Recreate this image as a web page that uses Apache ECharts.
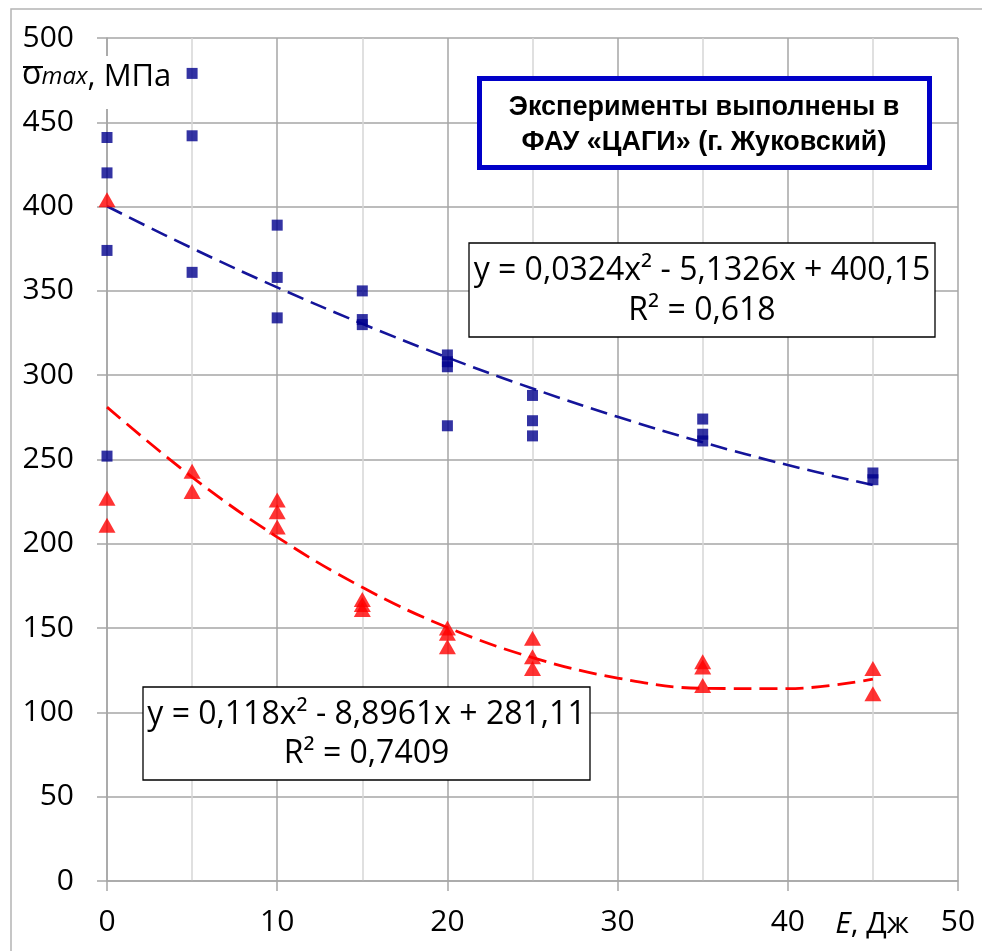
<!DOCTYPE html>
<html>
<head>
<meta charset="utf-8">
<script src="https://cdn.jsdelivr.net/npm/echarts@6/dist/echarts.min.js"></script>
<style>
  html, body { margin: 0; padding: 0; background: #fff; }
  #main { width: 982px; height: 951px; }
</style>
</head>
<body>
<div id="main"></div>
<script>
// измеренные точки (E, Дж ; sigma max, МПа)
const bluePoints = [
  [0, 441], [0, 420], [0, 374], [0, 252],
  [5, 479], [5, 442], [5, 361],
  [10, 389], [10, 358], [10, 334],
  [15, 350], [15, 333], [15, 330],
  [20, 312], [20, 308], [20, 305], [20, 270],
  [25, 288], [25, 273], [25, 264],
  [35, 274], [35, 265], [35, 261],
  [45, 242], [45, 238]
];
const redPoints = [
  [0, 404], [0, 227], [0, 211],
  [5, 243], [5, 231],
  [10, 226], [10, 219], [10, 210],
  [15, 167], [15, 164], [15, 161],
  [20, 150], [20, 147], [20, 139],
  [25, 144], [25, 133], [25, 126],
  [35, 130], [35, 127], [35, 116],
  [45, 126], [45, 111]
];
// линии тренда, значения
const trendX = [0, 5, 10, 15, 20, 25, 30, 35, 40, 45];
const blueTrend = [400.2, 375.3, 352.1, 330.5, 310.5, 292.1, 275.3, 260.2, 246.7, 234.8];
const redTrend = [281.1, 239.6, 204.0, 174.2, 150.4, 132.5, 120.4, 114.3, 114.1, 119.7];

const blueEq = ['y = 0,0324x² - 5,1326x + 400,15', 'R² = 0,618'];
const redEq = ['y = 0,118x² - 8,8961x + 281,11', 'R² = 0,7409'];
const noteText = ['Эксперименты выполнены в', 'ФАУ «ЦАГИ» (г. Жуковский)'];

const FONT = '"Open Sans", "DejaVu Sans", sans-serif';
const gridCol = '#a6a6a6';

function zip(xs, ys) {
    return xs.map((x, i) => [x, ys[i]]);
}

function eqBox(x, y, w, h, lines) {
    return [
        { type: 'rect', z: 100, shape: { x: x, y: y, width: w, height: h },
          style: { fill: '#fff', stroke: '#000', lineWidth: 1.3 } },
        { type: 'text', z: 101, x: x + w / 2, y: y + h * 0.30,
          style: { text: lines[0], font: '32px ' + FONT, fill: '#000', align: 'center', verticalAlign: 'middle' } },
        { type: 'text', z: 101, x: x + w / 2, y: y + h * 0.72,
          style: { text: lines[1], font: '32px ' + FONT, fill: '#000', align: 'center', verticalAlign: 'middle' } }
    ];
}

const chart = echarts.init(document.getElementById('main'));

const option = {
    backgroundColor: '#fff',
    animation: false,
    grid: { left: 107, right: 24, top: 38, bottom: 70 },
    xAxis: {
        type: 'value', min: 0, max: 50, interval: 10,
        axisLine: { show: true, lineStyle: { color: gridCol, width: 1.5 } },
        axisTick: { show: true, length: 10, lineStyle: { color: gridCol, width: 1.5 } },
        axisLabel: { fontSize: 30, fontFamily: FONT, color: '#000', margin: 26 },
        splitLine: { show: true, lineStyle: { color: gridCol, width: 1.5 } },
        minorTick: { show: false, splitNumber: 2 },
        minorSplitLine: { show: true, lineStyle: { color: '#d6d6d6', width: 1.5 } }
    },
    yAxis: {
        type: 'value', min: 0, max: 500, interval: 50,
        axisLine: { show: true, lineStyle: { color: gridCol, width: 1.5 } },
        axisTick: { show: true, length: 10, lineStyle: { color: gridCol, width: 1.5 } },
        axisLabel: { fontSize: 30, fontFamily: FONT, color: '#000', margin: 33 },
        splitLine: { show: true, lineStyle: { color: gridCol, width: 1.5 } }
    },
    series: [
        {
            type: 'line', data: zip(trendX, blueTrend), smooth: 0.4, symbol: 'none', z: 2,
            lineStyle: { color: '#14149a', width: 2.6, type: [17, 8] }
        },
        {
            type: 'line', data: zip(trendX, redTrend), smooth: 0.4, symbol: 'none', z: 2,
            lineStyle: { color: '#ff0000', width: 2.8, type: [18, 8] }
        },
        {
            type: 'scatter', data: bluePoints, symbol: 'rect', symbolSize: 11, z: 3,
            itemStyle: { color: '#00008c' }
        },
        {
            type: 'scatter', data: redPoints, symbol: 'triangle', symbolSize: [17, 15], z: 4,
            itemStyle: { color: '#ff0000' }
        }
    ],
    graphic: [
        // рамка
        { type: 'rect', z: -1, shape: { x: 11, y: 9, width: 1100, height: 1100 },
          style: { fill: null, stroke: '#b4b4b4', lineWidth: 1.5 } },
        // подпись оси Y
        { type: 'rect', z: 100, shape: { x: 18, y: 56, width: 154, height: 53 }, style: { fill: '#fff' } },
        { type: 'text', z: 101, x: 22, y: 95,
          style: {
              text: '{s|σ}{m|max}{n|, МПа}', verticalAlign: 'bottom',
              rich: {
                  s: { font: '32px ' + FONT, fill: '#000', padding: [0, 0, 4, 0] },
                  m: { font: 'italic 24px ' + FONT, fill: '#000' },
                  n: { font: '31px ' + FONT, fill: '#000' }
              }
          } },
        { type: 'line', z: 101, shape: { x1: 23, y1: 67, x2: 43, y2: 67 }, style: { stroke: '#000', lineWidth: 2 } },
        // подпись оси X
        { type: 'text', z: 101, x: 872, y: 924,
          style: {
              text: '{i|E}{n|, Дж}', align: 'center', verticalAlign: 'middle',
              rich: {
                  i: { font: 'italic 30px ' + FONT, fill: '#000' },
                  n: { font: '30px ' + FONT, fill: '#000' }
              }
          } },
        // примечание
        { type: 'rect', z: 100, shape: { x: 479.5, y: 78.5, width: 450, height: 89 },
          style: { fill: '#fff', stroke: '#0000c8', lineWidth: 5 } },
        { type: 'text', z: 101, x: 704, y: 108,
          style: { text: noteText[0], font: 'bold 27px "Liberation Sans", Arial, sans-serif', fill: '#000', align: 'center', verticalAlign: 'middle' } },
        { type: 'text', z: 101, x: 704, y: 143,
          style: { text: noteText[1], font: 'bold 27px "Liberation Sans", Arial, sans-serif', fill: '#000', align: 'center', verticalAlign: 'middle' } }
    ].concat(eqBox(469, 243, 466, 94, blueEq), eqBox(143, 687, 447, 93, redEq))
};

chart.setOption(option);
</script>
</body>
</html>
